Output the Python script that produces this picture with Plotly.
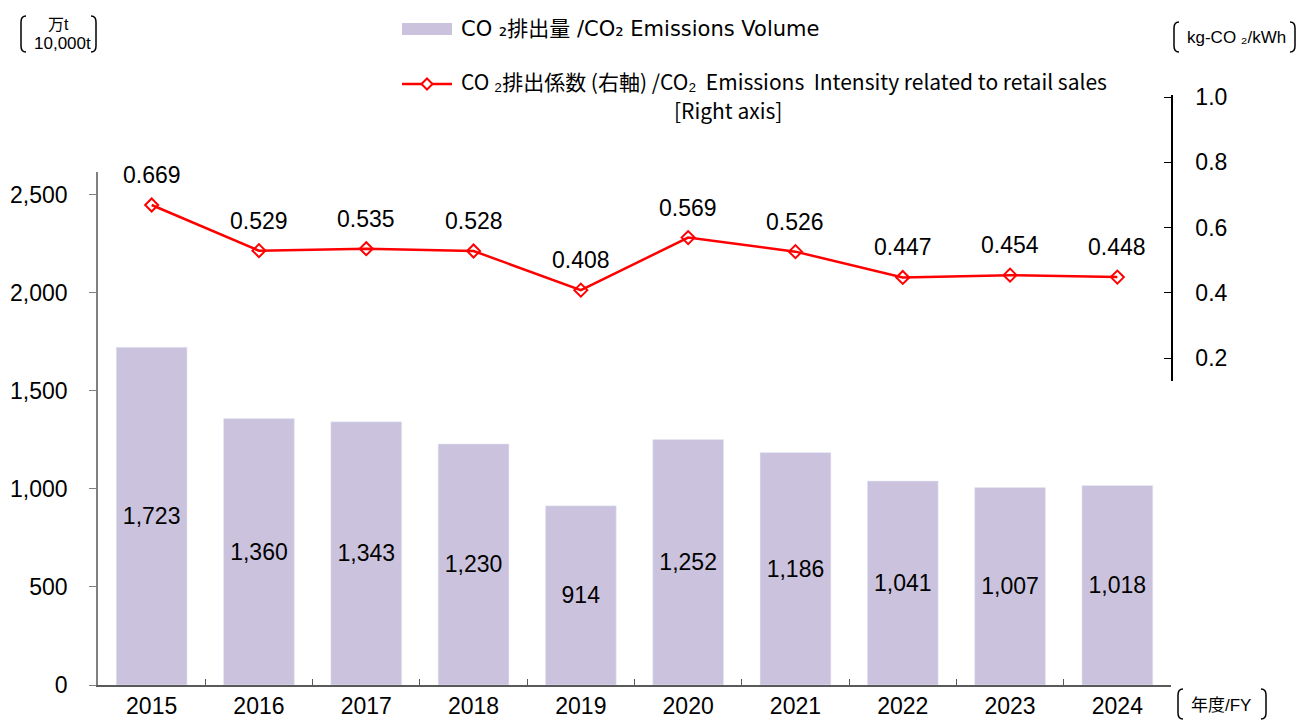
import plotly.graph_objects as go

years = ["2015", "2016", "2017", "2018", "2019", "2020", "2021", "2022", "2023", "2024"]
emissions = [1723, 1360, 1343, 1230, 914, 1252, 1186, 1041, 1007, 1018]
intensity = [0.669, 0.529, 0.535, 0.528, 0.408, 0.569, 0.526, 0.447, 0.454, 0.448]
left_ticks = [0, 500, 1000, 1500, 2000, 2500]
right_ticks = [0.2, 0.4, 0.6, 0.8, 1.0]

FONT = "Arial, 'Liberation Sans', 'Noto Sans CJK JP', sans-serif"
LFONT = "'DejaVu Sans', 'Noto Sans CJK JP', sans-serif"
NFONT = "'Liberation Sans Narrow', 'Arial Narrow', 'Noto Sans CJK JP', sans-serif"
BAR_COLOR = "#CBC3DD"
RED = "#FF0000"
NUM = 23

W, H = 1297, 721
L, R, T, B = 98, 126, 95, 36
PW, PH = W - L - R, H - T - B


def px(x):
    return (x - L) / PW


def py(y):
    return (H - B - y) / PH


fig = go.Figure()

fig.add_trace(go.Bar(
    x=years, y=emissions, marker_color=BAR_COLOR, width=0.66,
    text=[f"{v:,}" for v in emissions], textposition="inside",
    insidetextanchor="middle", textangle=0,
    textfont=dict(size=NUM, color="black", family=FONT),
    xaxis="x", yaxis="y", showlegend=False, hoverinfo="skip",
))

fig.add_trace(go.Scatter(
    x=years, y=intensity, mode="lines+markers",
    line=dict(color=RED, width=2.5),
    marker=dict(symbol="diamond-open", size=10, color=RED, line=dict(width=2, color=RED)),
    xaxis="x", yaxis="y2", showlegend=False, cliponaxis=False,
))

annotations = []
for i, v in enumerate(intensity):
    annotations.append(dict(x=i, y=v, xref="x", yref="y2", text=f"{v:.3f}",
                            showarrow=False, yshift=30,
                            font=dict(size=NUM, color="black", family=FONT)))

# legend texts
annotations += [
    dict(x=px(459), y=py(29), xref="paper", yref="paper", xanchor="left", yanchor="middle",
         text="CO ₂排出量 /CO₂ Emissions Volume", showarrow=False,
         font=dict(size=21, color="black", family=LFONT)),
    dict(x=px(459), y=py(81), xref="paper", yref="paper", xanchor="left", yanchor="middle",
         text="CO ₂排出係数 (右軸) /CO₂  Emissions  Intensity related to retail sales", showarrow=False,
         font=dict(size=21, color="black", family=NFONT)),
    dict(x=px(728), y=py(110), xref="paper", yref="paper", xanchor="center", yanchor="middle",
         text="[Right axis]", showarrow=False,
         font=dict(size=21, color="black", family=NFONT)),
    # units
    dict(x=px(58), y=py(24), xref="paper", yref="paper", xanchor="center", yanchor="middle",
         text="万t", showarrow=False, font=dict(size=16, color="black", family=FONT)),
    dict(x=px(62), y=py(43), xref="paper", yref="paper", xanchor="center", yanchor="middle",
         text="10,000t", showarrow=False, font=dict(size=17, color="black", family=FONT)),
    dict(x=px(1236), y=py(37), xref="paper", yref="paper", xanchor="center", yanchor="middle",
         text="kg-CO ₂/kWh", showarrow=False, font=dict(size=17, color="black", family=FONT)),
    dict(x=px(1221), y=py(705), xref="paper", yref="paper", xanchor="center", yanchor="middle",
         text="年度/FY", showarrow=False, font=dict(size=17, color="black", family=FONT)),
]


def bracket(x, y0, y1, side):
    d = 5 if side == "left" else -5
    c = 6
    return (f"M {px(x + d)} {py(y0)} Q {px(x)} {py(y0)} {px(x)} {py(y0 + c)} "
            f"L {px(x)} {py(y1 - c)} Q {px(x)} {py(y1)} {px(x + d)} {py(y1)}")


shapes = []
for (x, y0, y1, side) in [(21, 16, 52, "left"), (96, 16, 52, "right"),
                          (1174, 22, 52, "left"), (1295, 22, 52, "right"),
                          (1178, 689, 719, "left"), (1266, 689, 719, "right")]:
    shapes.append(dict(type="path", path=bracket(x, y0, y1, side), xref="paper", yref="paper",
                       line=dict(color="black", width=1.5)))

# legend swatches
shapes.append(dict(type="rect", xref="paper", yref="paper",
                   x0=px(402), x1=px(452), y0=py(23), y1=py(35),
                   fillcolor=BAR_COLOR, line=dict(width=0)))
shapes.append(dict(type="line", xref="paper", yref="paper",
                   x0=px(402), x1=px(452), y0=py(84), y1=py(84),
                   line=dict(color=RED, width=2.5)))
cx, cy, s = 427, 84, 5.5
shapes.append(dict(type="path", xref="paper", yref="paper",
                   path=f"M {px(cx - s)} {py(cy)} L {px(cx)} {py(cy - s)} L {px(cx + s)} {py(cy)} "
                        f"L {px(cx)} {py(cy + s)} Z",
                   fillcolor="white", line=dict(color=RED, width=2)))

y_top = 2617
y2_lo = (423.25 - 381) / 326.25
y2_hi = (423.25 - 95) / 326.25

fig.update_layout(
    width=W, height=H, autosize=False,
    margin=dict(l=L, r=R, t=T, b=B, autoexpand=False),
    paper_bgcolor="white", plot_bgcolor="rgba(0,0,0,0)",
    font=dict(family=FONT, size=NUM, color="black"),
    xaxis=dict(
        domain=[0, 1], anchor="y", type="category", automargin=False,
        showline=True, linecolor="#595959", linewidth=1.5,
        ticks="inside", tickson="boundaries", ticklen=6, tickcolor="#595959",
        tickfont=dict(size=NUM, color="black"), showgrid=False,
        range=[-0.5, 9.5],
    ),
    yaxis=dict(
        domain=[0, (H - B - 172) / PH], anchor="x", range=[0, y_top], automargin=False,
        tickvals=left_ticks, ticktext=[f"{v:,}" for v in left_ticks],
        showline=True, linecolor="#808080", linewidth=1.5,
        ticks="outside", ticklen=7, tickcolor="#808080",
        ticklabelstandoff=17,
        tickfont=dict(size=NUM, color="black"), showgrid=False, zeroline=False,
    ),
    yaxis2=dict(
        domain=[py(381), 1], anchor="x", side="right", range=[y2_lo, y2_hi], automargin=False,
        tickvals=right_ticks, ticktext=[f"{v:.1f}" for v in right_ticks],
        showline=True, linecolor="black", linewidth=1.5,
        ticks="inside", ticklen=7, tickcolor="black",
        ticklabelstandoff=18,
        tickfont=dict(size=NUM, color="black"), showgrid=False, zeroline=False,
    ),
    annotations=annotations,
    shapes=shapes,
    showlegend=False,
)

fig.write_html("out.html", config={"displayModeBar": False},
               post_script="document.body.style.margin='0';document.body.style.overflow='hidden';")
